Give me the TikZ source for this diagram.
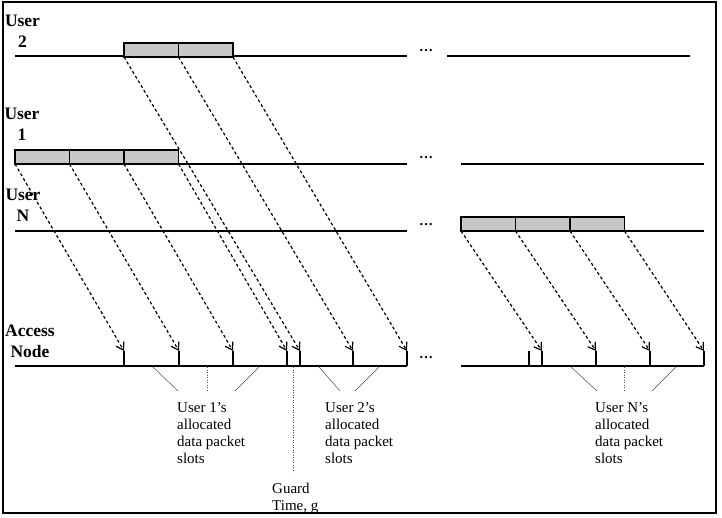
\documentclass[tikz,border=0pt]{standalone}
\usepackage{fontspec}
\setmainfont{Liberation Serif}
\usetikzlibrary{arrows.meta, positioning}
\tikzstyle{slot} = [rectangle, draw=black, fill=black!22, line width=1.1pt, minimum width=54.5pt, minimum height=14pt, inner sep=0pt, outer sep=0pt]
\tikzstyle{track} = [line width=1.3pt]
\tikzstyle{hop} = [line width=1.2pt, dash pattern=on 3pt off 2.5pt, -{Straight Barb[length=7pt,width=9pt]}]
\tikzstyle{who} = [font=\fontsize{17.5}{21}\selectfont\bfseries, align=center, inner sep=0pt, anchor=north]
\tikzstyle{note} = [font=\fontsize{15}{17}\selectfont, align=left, inner sep=0pt, anchor=north west]
\tikzstyle{more} = [font=\fontsize{14}{16}\selectfont\bfseries, inner sep=0pt]
\tikzstyle{brace} = [line width=0.5pt, black!70]

\begin{document}
\begin{tikzpicture}[x=1pt, y=-1pt]
    \useasboundingbox (0,0) rectangle (722,518);
    \draw [line width=1.6pt] (3,2) rectangle (716,513);

    % user labels
    \node (lab2) [who] at (22.5,14.5) {User\\2};
    \node (lab1) [who] at (22,107.5) {User\\1};
    \node (labn) [who] at (23,188.5) {User\\N};
    \node (labacc) [who] at (30,324.5) {Access\\Node};

    % time lines
    \draw [track] (15,56) -- (407,56);
    \draw [track] (447,56) -- (690,56);
    \draw [track] (15,164) -- (407,164);
    \draw [track] (461,164) -- (704,164);
    \draw [track] (15,231) -- (407,231);
    \draw [track] (461,231) -- (704,231);
    \draw [track] (15,366) -- (407,366);
    \draw [track] (461,366) -- (704,366);

    \node (dots2) [more] at (426,51) {\dots};
    \node (dots1) [more] at (426,158) {\dots};
    \node (dotsn) [more] at (426,225) {\dots};
    \node (dotsacc) [more] at (426,358) {\dots};

    % data packets
    \node (u2a) [slot, anchor=south west] at (124,57) {};
    \node (u2b) [slot, right=0pt of u2a] {};
    \node (u1a) [slot, anchor=south west] at (15,164) {};
    \node (u1b) [slot, right=0pt of u1a] {};
    \node (u1c) [slot, right=0pt of u1b] {};
    \node (una) [slot, anchor=south west] at (461,231) {};
    \node (unb) [slot, right=0pt of una] {};
    \node (unc) [slot, right=0pt of unb] {};

    % slot boundaries at the access node
    \foreach \x [count=\i] in {124,179,233,287,300,353,407} {
        \coordinate (t\i) at (\x,351);
        \draw [track] (t\i) -- +(0,15);
    }
    \foreach \x [count=\i] in {529,542,596,650,704} {
        \coordinate (r\i) at (\x,351);
        \draw [track] (r\i) -- +(0,15);
    }

    \draw [hop] (u1a.south west) -- (t1);
    \draw [hop] (u1b.south west) -- (t2);
    \draw [hop] (u1c.south west) -- (t3);
    \draw [hop] (u1c.south east) -- (t4);
    \draw [hop] (u2a.south west) -- (t5);
    \draw [hop] (u2b.south west) -- (t6);
    \draw [hop] (u2b.south east) -- (t7);
    \draw [hop] (una.south west) -- (r2);
    \draw [hop] (unb.south west) -- (r3);
    \draw [hop] (unc.south west) -- (r4);
    \draw [hop] (unc.south east) -- (r5);

    % allocation notes
    \draw [brace] (153,367) -- (178,391);
    \draw [brace, dotted] (207,367) -- (207,391);
    \draw [brace] (259,367) -- (235,391);
    \node (slots1) [note] at (177,402) {User 1's\\allocated\\data packet\\slots};

    \draw [brace] (319,367) -- (340,391);
    \draw [brace] (379,367) -- (355,391);
    \node (slots2) [note] at (325,402) {User 2's\\allocated\\data packet\\slots};

    \draw [brace] (571,367) -- (597,391);
    \draw [brace, dotted] (624,367) -- (624,391);
    \draw [brace] (676,367) -- (652,391);
    \node (slotsn) [note] at (595,402) {User N's\\allocated\\data packet\\slots};

    \draw [brace, dotted] (293,367) -- (293,472);
    \node (guard) [note] at (272,483) {Guard\\Time, g};
\end{tikzpicture}
\end{document}
